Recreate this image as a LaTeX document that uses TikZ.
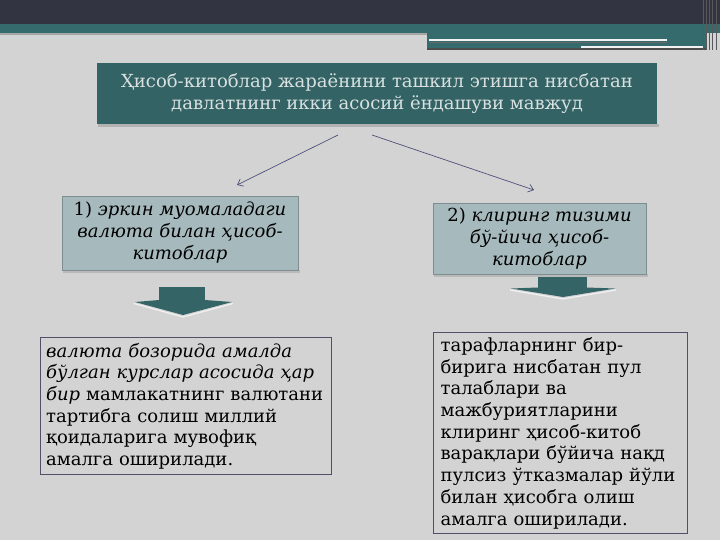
\documentclass[tikz,border=0pt]{standalone}
\usepackage{fontspec}
\setmainfont{DejaVu Serif}
\usetikzlibrary{arrows.meta}
\definecolor{bgc}{HTML}{D3D3D3}
\definecolor{darkband}{HTML}{333442}
\definecolor{tealband}{HTML}{356B6D}
\definecolor{titlefill}{HTML}{346365}
\definecolor{titletext}{HTML}{D8E0E0}
\definecolor{boxfill}{HTML}{A6B9BC}
\definecolor{boxedge}{HTML}{7E8E90}
\definecolor{txtedge}{HTML}{505068}
\definecolor{arrowc}{HTML}{50507A}
\definecolor{headfill}{HTML}{356466}
\tikzset{
  titlebox/.style={fill=titlefill, draw=none, text=titletext, align=center,
    minimum width=560pt, minimum height=61pt, inner sep=0pt,
    font=\fontsize{18}{22}\selectfont},
  methodbox/.style={fill=boxfill, draw=boxedge, line width=0.8pt, align=center,
    inner sep=0pt, font=\fontsize{18}{22}\selectfont},
  textbox/.style={fill=bgc, draw=txtedge, line width=1.2pt, align=left,
    inner ysep=0pt, font=\fontsize{18}{21.7}\selectfont},
  link/.style={draw=arrowc, line width=0.7pt, -{Straight Barb[length=5pt,width=8pt]}},
  shaft/.style={fill=headfill, draw=none},
  headshape/.style={fill=headfill, draw=none},
  headedge/.style={draw=white!88!gray, line width=1.3pt, line join=miter}
}
\begin{document}
\begin{tikzpicture}[x=1pt,y=-1pt]
\useasboundingbox (0,0) rectangle (720,540);
\fill[bgc] (0,0) rectangle (720,540);
% header
\fill[darkband] (0,0) rectangle (720,24);
\fill[tealband] (0,24) rectangle (720,33);
\fill[gray!70] (0,33) rectangle (427,35);
\fill[tealband] (427,33) rectangle (707,49);
\fill[gray!60!black] (427,48) rectangle (707,50);
\draw[white!90!gray, line width=1.5pt] (429,40) -- (667,40);
\draw[black!60, line width=0.8pt] (429,42) -- (667,42);
\draw[white!90!gray, line width=1.5pt] (581,47) -- (703,47);
\foreach \xx in {703,706,709,712,716}
  \draw[gray!70!black, line width=0.6pt] (\xx,0) -- (\xx,50);
% title
\fill[gray!60] (98,124) rectangle (659,127);
\node[titlebox] (title) at (377,93.5)
  {Ҳисоб-китоблар жараёнини ташкил этишга нисбатан\\давлатнинг икки асосий ёндашуви мавжуд};
% method boxes
\fill[gray!55] (63,270) rectangle (300,273);
\node[methodbox, minimum width=236pt, minimum height=74pt] (m1) at (180,233)
  {1) \textit{эркин муомаладаги}\\\textit{валюта билан ҳисоб-}\\\textit{китоблар}};
\fill[gray!55] (434,274) rectangle (648,277);
\node[methodbox, minimum width=213pt, minimum height=71pt] (m2) at (539.5,238.5)
  {2) \textit{клиринг тизими}\\\textit{бў-йича ҳисоб-}\\\textit{китоблар}};
% connectors
\coordinate (s1) at (338,135);
\coordinate (e1) at (237,185);
\coordinate (s2) at (372,135);
\coordinate (e2) at (534,190);
\draw[link] (s1) -- (e1);
\draw[link] (s2) -- (e2);
% down arrows
\fill[shaft] (159,287) rectangle (205,302);
\fill[headshape] (135,302) -- (159,300) -- (205,300) -- (232,302) -- (183,315) -- cycle;
\draw[headedge] (134,303.5) -- (183,317) -- (233,303.5);
\fill[shaft] (538,277) rectangle (587,289);
\fill[headshape] (511,288.5) -- (538,287.5) -- (587,287.5) -- (615,288.5) -- (563,297) -- cycle;
\draw[headedge] (510,290) -- (563,299) -- (616,290);
% text boxes
\node[textbox, minimum width=291pt, minimum height=137pt, text width=280pt,
  inner xsep=5.5pt, anchor=north west] (t1) at (40,337)
  {\textit{валюта бозорида амалда}\\\textit{бўлган курслар асосида ҳар}\\\textit{бир} мамлакатнинг валютани\\тартибга солиш миллий\\қоидаларига мувофиқ\\амалга оширилади.};
\node[textbox, minimum width=254pt, minimum height=201pt, text width=240pt,
  inner xsep=7pt, anchor=north west] (t2) at (433,332)
  {тарафларнинг бир-\\бирига нисбатан пул\\талаблари ва\\мажбуриятларини\\клиринг ҳисоб-китоб\\варақлари бўйича нақд\\пулсиз ўтказмалар йўли\\билан ҳисобга олиш\\амалга оширилади.};
\end{tikzpicture}
\end{document}
